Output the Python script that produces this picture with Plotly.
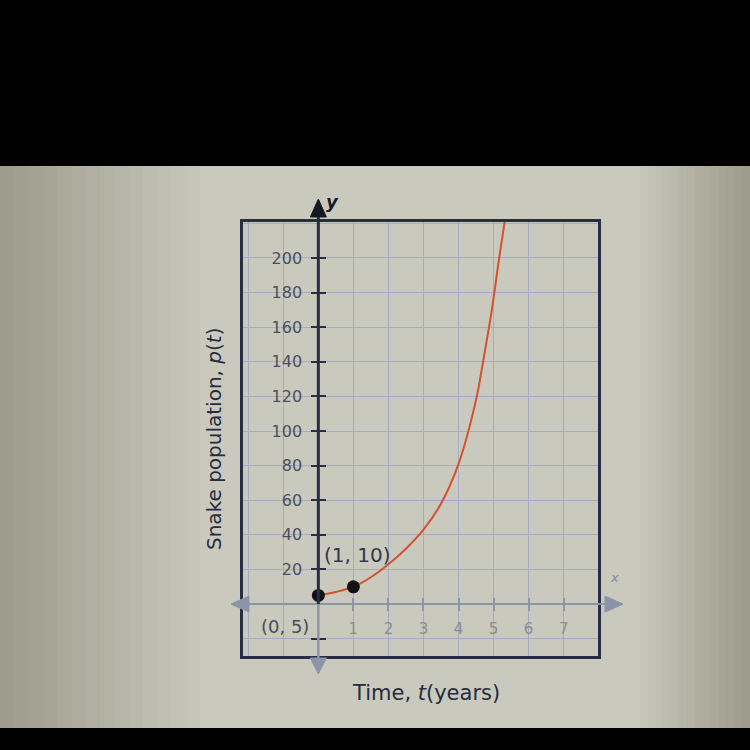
import plotly.graph_objects as go

# ---- data ----
t_vals = [0, 0.5, 1, 1.5, 2, 2.5, 3, 3.5, 4, 4.5, 4.7, 4.95, 5.16, 5.4]
p_vals = [5, 7, 10, 15.5, 23, 32, 43, 58, 81, 118, 140, 170, 200, 232]
point_t = [0, 1]
point_p = [5, 10]
x_ticks = [1, 2, 3, 4, 5, 6, 7]
x_ticktext = ["1", "2", "3", "4", "5", "6", "7"]
y_ticks = [-20, 20, 40, 60, 80, 100, 120, 140, 160, 180, 200]
y_ticktext = ["", "20", "40", "60", "80", "100", "120", "140", "160", "180", "200"]

XMIN, XMAX = -2.15, 7.98
YMIN, YMAX = -30, 220.8

# plot box in pixels
L, R, T, B = 243, 598, 222, 656
W, H = 750, 750


def px(p):
    return (p - L) / (R - L)


def py(p):
    return (B - p) / (B - T)


x0p = (0 - XMIN) / (XMAX - XMIN)   # paper x of y-axis
y0p = (0 - YMIN) / (YMAX - YMIN)   # paper y of x-axis
x0pix = L + x0p * (R - L)
y0pix = B - y0p * (B - T)

NAVY = "#272d47"
GRAYAX = "#8c94a8"
GRID = "#a5acc2"
FONT = "DejaVu Sans, Verdana, sans-serif"

fig = go.Figure()
fig.add_trace(go.Scatter(x=t_vals, y=p_vals, mode="lines", line=dict(color="#d2522e", width=2, shape="spline"),
                         hoverinfo="skip", showlegend=False))
fig.add_trace(go.Scatter(x=point_t, y=point_p, mode="markers", marker=dict(color="#111111", size=13),
                         showlegend=False, cliponaxis=False))
# dummy traces so overlay axes exist
for xa, ya in [("x2", "y"), ("x3", "y"), ("x", "y2"), ("x", "y3")]:
    fig.add_trace(go.Scatter(x=[None], y=[None], xaxis=xa, yaxis=ya, showlegend=False, hoverinfo="skip"))

fig.update_layout(
    width=W, height=H,
    margin=dict(l=L, r=W - R, t=T, b=H - B),
    paper_bgcolor="#9e9c8c",
    plot_bgcolor="#cbcdc0",
    font=dict(family=FONT),
    xaxis=dict(range=[XMIN, XMAX], dtick=1, tick0=0, showgrid=True, gridcolor=GRID, gridwidth=1,
               zeroline=False, showticklabels=False, ticks="", showline=True, mirror=True,
               linecolor=NAVY, linewidth=3),
    yaxis=dict(range=[YMIN, YMAX], dtick=20, tick0=0, showgrid=True, gridcolor=GRID, gridwidth=1,
               zeroline=False, showticklabels=False, ticks="", showline=True, mirror=True,
               linecolor=NAVY, linewidth=3),
    xaxis2=dict(overlaying="x", anchor="free", position=y0p, range=[XMIN, XMAX], tickvals=x_ticks,
                ticktext=x_ticktext, ticks="outside", ticklen=6, tickwidth=2, tickcolor=GRAYAX,
                showgrid=False, zeroline=False, showline=False, side="bottom",
                tickfont=dict(size=15, color="#8a8c94", family=FONT), ticklabelstandoff=5),
    xaxis3=dict(overlaying="x", anchor="free", position=y0p, range=[XMIN, XMAX], tickvals=x_ticks,
                ticks="inside", ticklen=6, tickwidth=2, tickcolor=GRAYAX, showticklabels=False,
                showgrid=False, zeroline=False, showline=False, side="bottom"),
    yaxis2=dict(overlaying="y", anchor="free", position=x0p, range=[YMIN, YMAX], tickvals=y_ticks,
                ticktext=y_ticktext, ticks="outside", ticklen=7, tickwidth=2, tickcolor=NAVY,
                showgrid=False, zeroline=False, showline=False, side="left",
                tickfont=dict(size=16, color="#4c4f5c", family=FONT), ticklabelstandoff=6),
    yaxis3=dict(overlaying="y", anchor="free", position=x0p, range=[YMIN, YMAX], tickvals=y_ticks,
                ticks="inside", ticklen=7, tickwidth=2, tickcolor=NAVY, showticklabels=False,
                showgrid=False, zeroline=False, showline=False, side="left"),
)

shapes = []
# background vignette (nested soft steps)
c_out = (0x9e, 0x9c, 0x8c)
c_in = (0xc9, 0xca, 0xbd)
n = 14
for i in range(n):
    f = (i + 1) / n
    col = "#%02x%02x%02x" % tuple(int(a + (b - a) * f) for a, b in zip(c_out, c_in))
    x1 = 0 + f * 200
    x2 = 750 - f * 110
    shapes.append(dict(type="rect", xref="paper", yref="paper", x0=px(x1), x1=px(x2), y0=py(728), y1=py(166),
                       fillcolor=col, line=dict(width=0), layer="below"))
# black bands
shapes.append(dict(type="rect", xref="paper", yref="paper", x0=px(-5), x1=px(760), y0=py(166), y1=py(-5),
                   fillcolor="#000000", line=dict(width=0), layer="below"))
shapes.append(dict(type="rect", xref="paper", yref="paper", x0=px(-5), x1=px(760), y0=py(760), y1=py(728),
                   fillcolor="#000000", line=dict(width=0), layer="below"))

# axis lines
shapes.append(dict(type="line", xref="paper", yref="paper", x0=px(246), x1=px(608), y0=y0p, y1=y0p,
                   line=dict(color=GRAYAX, width=2), layer="above"))
shapes.append(dict(type="line", xref="paper", yref="paper", x0=x0p, x1=x0p, y0=y0p, y1=py(661),
                   line=dict(color=GRAYAX, width=2.5), layer="above"))
shapes.append(dict(type="line", xref="paper", yref="paper", x0=x0p, x1=x0p, y0=y0p, y1=py(214),
                   line=dict(color=NAVY, width=3), layer="above"))


def tri(tip, b1, b2, color):
    path = f"M {px(tip[0])},{py(tip[1])} L {px(b1[0])},{py(b1[1])} L {px(b2[0])},{py(b2[1])} Z"
    return dict(type="path", xref="paper", yref="paper", path=path, fillcolor=color,
                line=dict(color=color, width=1), layer="above")


shapes.append(tri((x0pix, 199), (x0pix - 8, 217), (x0pix + 8, 217), "#151826"))
shapes.append(tri((x0pix, 674), (x0pix - 8, 658), (x0pix + 8, 658), GRAYAX))
shapes.append(tri((231, y0pix), (249, y0pix - 8), (249, y0pix + 8), GRAYAX))
shapes.append(tri((623, y0pix), (605, y0pix - 8), (605, y0pix + 8), GRAYAX))
fig.update_layout(shapes=shapes)

ann = [
    dict(text="Snake population, <i>p</i>(<i>t</i>)", xref="paper", yref="paper", x=px(214), y=py(439),
         xanchor="center", yanchor="middle",
         textangle=-90, showarrow=False, font=dict(size=20, color="#272b40")),
    dict(text="Time, <i>t</i>(years)", xref="paper", yref="paper", x=px(426), y=py(693),
         xanchor="center", yanchor="middle",
         showarrow=False, font=dict(size=21, color="#272b40")),
    dict(text="(1, 10)", x=1.13, y=28.5, xref="x", yref="y", showarrow=False,
         font=dict(size=20, color="#33364a")),
    dict(text="(0, 5)", x=-0.95, y=-13, xref="x", yref="y", showarrow=False,
         font=dict(size=18, color="#4a4c5a")),
    dict(text="<b><i>y</i></b>", xref="paper", yref="paper", x=px(332), y=py(201),
         xanchor="center", yanchor="middle", showarrow=False,
         font=dict(size=18, color="#151826")),
    dict(text="<i>x</i>", xref="paper", yref="paper", x=px(621), y=py(587), showarrow=False,
         font=dict(size=13, color="#8a8c94")),
]
fig.update_layout(annotations=ann)

fig.write_html("out.html", config={"displayModeBar": False},
               post_script="document.body.style.margin='0';document.body.style.overflow='hidden';")
